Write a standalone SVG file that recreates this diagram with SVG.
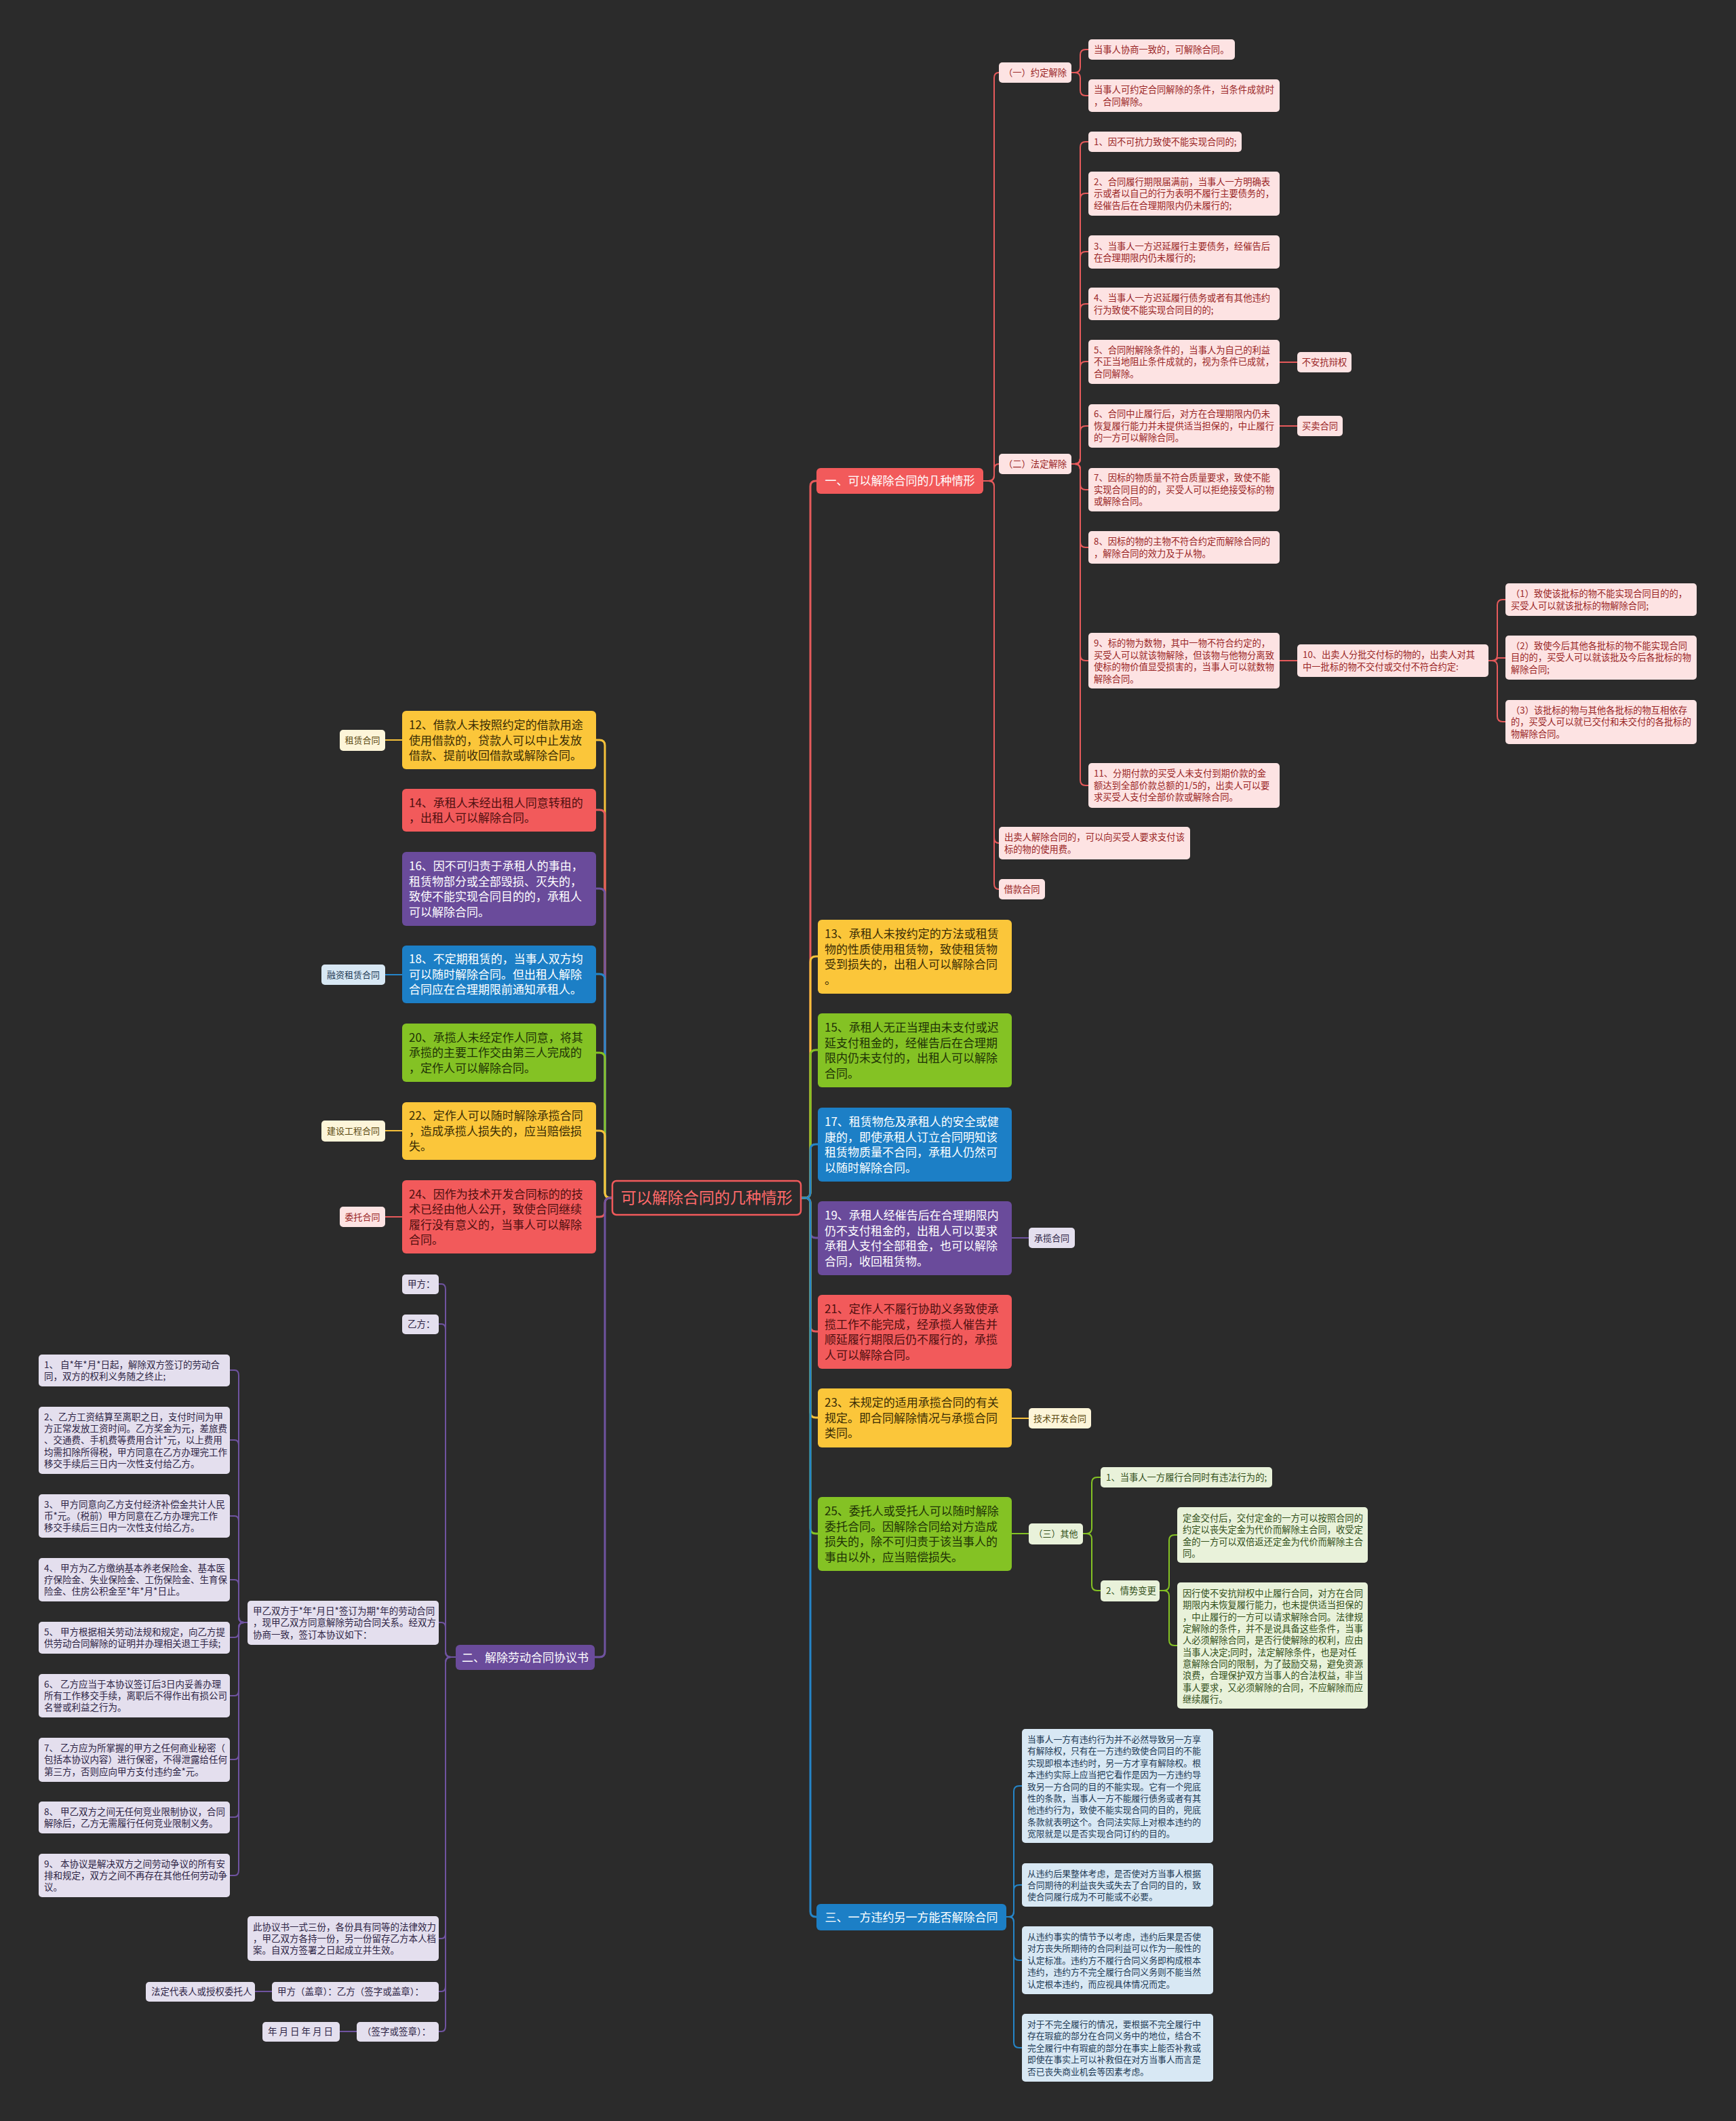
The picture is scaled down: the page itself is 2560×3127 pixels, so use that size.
<svg xmlns="http://www.w3.org/2000/svg" width="2560" height="3127" viewBox="0 0 2560 3127">
<style>
text{font-family:"Noto Sans CJK SC","Noto Sans",sans-serif}
.tb{font-size:17px}
.ts{font-size:13.3px}
.tg{font-size:13px}
.tl{font-size:13.5px}
.tbl{font-size:12.8px}
.c{text-anchor:middle}
.w{fill:#ffffff}
.dk-y{fill:#3a2d05}
.dk-r{fill:#4f1010}
.dk-g{fill:#1f3306}
.f-red{fill:#f25a5b}
.f-yel{fill:#fbc63a}
.f-grn{fill:#84c224}
.f-blu{fill:#1c7fc6}
.f-pur{fill:#6a4b9b}
.lp{fill:#fde3e3}
.lpt{fill:#9a2626}
.lg{fill:#e9f2da}
.lgt{fill:#33501a}
.lb{fill:#d8e8f4}
.lbt{fill:#1d3a55}
.lu{fill:#e4dfee}
.lut{fill:#2e2545}
.ly{fill:#fdf5d9}
.lyt{fill:#5c4a12}
.cn{fill:none;stroke-width:2}
.cr{stroke:#e65a5b}
.cy{stroke:#f6c13a}
.cg{stroke:#84c224}
.cb{stroke:#2585c8}
.cp{stroke:#6f53a0}
.thick{stroke-width:3}
</style>
<rect width="2560" height="3127" fill="#2b2b2b"/>

<g id="connectors">
<!-- root right -->
<path class="cn thick cr" d="M1181,1766 H1187 Q1195,1766 1195,1758 V717 Q1195,709 1203,709 H1205"/>
<path class="cn thick cy" d="M1181,1766 H1187 Q1195,1766 1195,1758 V1418 Q1195,1410 1203,1410 H1206"/>
<path class="cn thick cg" d="M1181,1766 H1187 Q1195,1766 1195,1758 V1556 Q1195,1548 1203,1548 H1206"/>
<path class="cn thick cb" d="M1181,1766 H1187 Q1195,1766 1195,1758 V1695 Q1195,1687 1203,1687 H1206"/>
<path class="cn thick cp" d="M1181,1766 H1187 Q1195,1766 1195,1774 V1817 Q1195,1825 1203,1825 H1206"/>
<path class="cn thick cr" d="M1181,1766 H1187 Q1195,1766 1195,1774 V1955 Q1195,1963 1203,1963 H1206"/>
<path class="cn thick cy" d="M1181,1766 H1187 Q1195,1766 1195,1774 V2082 Q1195,2090 1203,2090 H1206"/>
<path class="cn thick cg" d="M1181,1766 H1187 Q1195,1766 1195,1774 V2253 Q1195,2261 1203,2261 H1206"/>
<path class="cn thick cb" d="M1181,1766 H1187 Q1195,1766 1195,1774 V2818 Q1195,2826 1203,2826 H1205"/>
<!-- root left -->
<path class="cn thick cy" d="M903,1766 H900 Q892,1766 892,1758 V1099 Q892,1091 884,1091 H879"/>
<path class="cn thick cr" d="M903,1766 H900 Q892,1766 892,1758 V1202 Q892,1194 884,1194 H879"/>
<path class="cn thick cp" d="M903,1766 H900 Q892,1766 892,1758 V1318 Q892,1310 884,1310 H879"/>
<path class="cn thick cb" d="M903,1766 H900 Q892,1766 892,1758 V1444 Q892,1436 884,1436 H879"/>
<path class="cn thick cg" d="M903,1766 H900 Q892,1766 892,1758 V1560 Q892,1552 884,1552 H879"/>
<path class="cn thick cy" d="M903,1766 H900 Q892,1766 892,1758 V1675 Q892,1667 884,1667 H879"/>
<path class="cn thick cr" d="M903,1766 H900 Q892,1766 892,1774 V1786 Q892,1794 884,1794 H879"/>
<path class="cn thick cp" d="M903,1766 H900 Q892,1766 892,1774 V2435 Q892,2443 884,2443 H877"/>
<!-- left tags -->
<path class="cn cy" d="M568,1091 H593"/>
<path class="cn cb" d="M568,1437 H593"/>
<path class="cn cy" d="M568,1667 H593"/>
<path class="cn cr" d="M568,1794 H593"/>
<!-- right tags -->
<path class="cn cp" d="M1492,1825 H1517"/>
<path class="cn cy" d="M1492,2091 H1517"/>
<path class="cn cg" d="M1492,2261 H1517"/>
<!-- red branch -->
<path class="cn cr" d="M1450,709 H1458 Q1466,709 1466,701 V115 Q1466,107 1473,107"/>
<path class="cn cr" d="M1450,709 H1458 Q1466,709 1466,701 V692 Q1466,684 1473,684"/>
<path class="cn cr" d="M1450,709 H1458 Q1466,709 1466,717 V1235 Q1466,1243 1473,1243"/>
<path class="cn cr" d="M1450,709 H1458 Q1466,709 1466,717 V1303 Q1466,1311 1473,1311"/>
<path class="cn cr" d="M1580,107 H1585 Q1593,107 1593,99 V81 Q1593,73 1601,73 H1605"/>
<path class="cn cr" d="M1580,107 H1585 Q1593,107 1593,115 V133 Q1593,141 1601,141 H1605"/>
<path class="cn cr" d="M1580,684 H1585 Q1593,684 1593,676 V217 Q1593,209 1601,209 H1605"/>
<path class="cn cr" d="M1580,684 H1585 Q1593,684 1593,676 V293 Q1593,285 1601,285 H1605"/>
<path class="cn cr" d="M1580,684 H1585 Q1593,684 1593,676 V379 Q1593,371 1601,371 H1605"/>
<path class="cn cr" d="M1580,684 H1585 Q1593,684 1593,676 V456 Q1593,448 1601,448 H1605"/>
<path class="cn cr" d="M1580,684 H1585 Q1593,684 1593,676 V541 Q1593,533 1601,533 H1605"/>
<path class="cn cr" d="M1580,684 H1585 Q1593,684 1593,676 V636 Q1593,628 1601,628 H1605"/>
<path class="cn cr" d="M1580,684 H1585 Q1593,684 1593,692 V714 Q1593,722 1601,722 H1605"/>
<path class="cn cr" d="M1580,684 H1585 Q1593,684 1593,692 V799 Q1593,807 1601,807 H1605"/>
<path class="cn cr" d="M1580,684 H1585 Q1593,684 1593,692 V966 Q1593,974 1601,974 H1605"/>
<path class="cn cr" d="M1580,684 H1585 Q1593,684 1593,692 V1150 Q1593,1158 1601,1158 H1605"/>
<path class="cn cr" d="M1887,534 H1913"/>
<path class="cn cr" d="M1887,628 H1913"/>
<path class="cn cr" d="M1887,974 H1913"/>
<path class="cn cr" d="M2195,974 H2200 Q2208,974 2208,966 V892 Q2208,884 2216,884 H2220"/>
<path class="cn cr" d="M2195,974 H2200 Q2208,974 2208,970 H2220"/>
<path class="cn cr" d="M2195,974 H2200 Q2208,974 2208,982 V1056 Q2208,1064 2216,1064 H2220"/>
<!-- green other -->
<path class="cn cg" d="M1597,2261 H1602 Q1610,2261 1610,2253 V2186 Q1610,2178 1618,2178 H1623"/>
<path class="cn cg" d="M1597,2261 H1602 Q1610,2261 1610,2269 V2337 Q1610,2345 1618,2345 H1623"/>
<path class="cn cg" d="M1710,2345 H1716 Q1724,2345 1724,2337 V2271 Q1724,2263 1732,2263 H1736"/>
<path class="cn cg" d="M1710,2345 H1716 Q1724,2345 1724,2353 V2418 Q1724,2426 1732,2426 H1736"/>
<!-- blue three -->
<path class="cn cb" d="M1484,2826 H1488 Q1495,2826 1495,2818 V2641 Q1495,2633 1503,2633 H1507"/>
<path class="cn cb" d="M1484,2826 H1488 Q1495,2826 1495,2818 V2787 Q1495,2779 1503,2779 H1507"/>
<path class="cn cb" d="M1484,2826 H1488 Q1495,2826 1495,2834 V2882 Q1495,2890 1503,2890 H1507"/>
<path class="cn cb" d="M1484,2826 H1488 Q1495,2826 1495,2834 V3011 Q1495,3019 1503,3019 H1507"/>
<!-- purple two -->
<path class="cn cp" d="M672,2443 H665 Q657,2443 657,2435 V1901 Q657,1893 651,1893 H647"/>
<path class="cn cp" d="M672,2443 H665 Q657,2443 657,2435 V1960 Q657,1952 651,1952 H647"/>
<path class="cn cp" d="M672,2443 H665 Q657,2443 657,2435 V2400 Q657,2392 651,2392 H647"/>
<path class="cn cp" d="M672,2443 H665 Q657,2443 657,2451 V2850 Q657,2858 651,2858 H647"/>
<path class="cn cp" d="M672,2443 H665 Q657,2443 657,2451 V2928 Q657,2936 651,2936 H647"/>
<path class="cn cp" d="M672,2443 H665 Q657,2443 657,2451 V2987 Q657,2995 651,2995 H647"/>
<path class="cn cp" d="M365,2392 H360 Q352,2392 352,2384 V2028 Q352,2020 346,2020 H339"/>
<path class="cn cp" d="M365,2392 H360 Q352,2392 352,2384 V2131 Q352,2123 346,2123 H339"/>
<path class="cn cp" d="M365,2392 H360 Q352,2392 352,2384 V2243 Q352,2235 346,2235 H339"/>
<path class="cn cp" d="M365,2392 H360 Q352,2392 352,2384 V2337 Q352,2329 346,2329 H339"/>
<path class="cn cp" d="M365,2392 H360 Q352,2392 352,2400 V2406 Q352,2414 346,2414 H339"/>
<path class="cn cp" d="M365,2392 H360 Q352,2392 352,2400 V2492 Q352,2500 346,2500 H339"/>
<path class="cn cp" d="M365,2392 H360 Q352,2392 352,2400 V2586 Q352,2594 346,2594 H339"/>
<path class="cn cp" d="M365,2392 H360 Q352,2392 352,2400 V2671 Q352,2679 346,2679 H339"/>
<path class="cn cp" d="M365,2392 H360 Q352,2392 352,2400 V2757 Q352,2765 346,2765 H339"/>
<path class="cn cp" d="M401,2936 H376"/>
<path class="cn cp" d="M526,2995 H501"/>
</g>

<g id="root">
<rect x="903" y="1741" width="278" height="50" rx="6" fill="#2b2b2b" stroke="#f25a5b" stroke-width="2.5"/>
<text x="1042" y="1774" class="c" font-size="23" fill="#ff6a6a">可以解除合同的几种情形</text>
</g>

<g id="branch1">
<rect x="1204" y="690" width="246" height="38" rx="6" class="f-red"/>
<text x="1327" y="715" class="tb c w">一、可以解除合同的几种情形</text>
</g>
<g id="branch2">
<rect x="672" y="2425" width="205" height="37" rx="6" class="f-pur"/>
<text x="774.5" y="2449.5" class="tb c w">二、解除劳动合同协议书</text>
</g>
<g id="branch3">
<rect x="1204" y="2807" width="280" height="39" rx="6" class="f-blu"/>
<text x="1344" y="2832.5" class="tb c w">三、一方违约另一方能否解除合同</text>
</g>

<!-- red branch details -->
<g id="n-yueding"><rect x="1473" y="92" width="107" height="30" rx="5" class="lp"/><text x="1526.5" y="111.7" class="ts c lpt">（一）约定解除</text></g>
<g id="n-xieshang"><rect x="1605" y="58" width="216" height="30" rx="5" class="lp"/><text x="1613" y="77.7" class="ts lpt">当事人协商一致的，可解除合同。</text></g>
<g id="n-keyueding"><rect x="1605" y="117" width="282" height="48" rx="5" class="lp"/><text x="1613" y="137" class="ts lpt">当事人可约定合同解除的条件，当条件成就时<tspan x="1613" y="154.5">，合同解除。</tspan></text></g>
<g id="n-fading"><rect x="1473" y="669" width="107" height="30" rx="5" class="lp"/><text x="1526.5" y="688.7" class="ts c lpt">（二）法定解除</text></g>
<g id="n-f1"><rect x="1605" y="194" width="226" height="30" rx="5" class="lp"/><text x="1613" y="213.7" class="ts lpt">1、因不可抗力致使不能实现合同的;</text></g>
<g id="n-f2"><rect x="1605" y="253" width="282" height="65" rx="5" class="lp"/><text x="1613" y="272.7" class="ts lpt">2、合同履行期限届满前，当事人一方明确表<tspan x="1613" y="290.2">示或者以自己的行为表明不履行主要债务的，</tspan><tspan x="1613" y="307.7">经催告后在合理期限内仍未履行的;</tspan></text></g>
<g id="n-f3"><rect x="1605" y="347" width="282" height="49" rx="5" class="lp"/><text x="1613" y="367.5" class="ts lpt">3、当事人一方迟延履行主要债务，经催告后<tspan x="1613" y="385">在合理期限内仍未履行的;</tspan></text></g>
<g id="n-f4"><rect x="1605" y="424" width="282" height="48" rx="5" class="lp"/><text x="1613" y="444" class="ts lpt">4、当事人一方迟延履行债务或者有其他违约<tspan x="1613" y="461.5">行为致使不能实现合同目的的;</tspan></text></g>
<g id="n-f5"><rect x="1605" y="501" width="282" height="65" rx="5" class="lp"/><text x="1613" y="520.7" class="ts lpt">5、合同附解除条件的，当事人为自己的利益<tspan x="1613" y="538.2">不正当地阻止条件成就的，视为条件已成就，</tspan><tspan x="1613" y="555.7">合同解除。</tspan></text></g>
<g id="n-buan"><rect x="1913" y="519" width="80" height="30" rx="5" class="lp"/><text x="1953" y="538.7" class="ts c lpt">不安抗辩权</text></g>
<g id="n-f6"><rect x="1605" y="596" width="282" height="64" rx="5" class="lp"/><text x="1613" y="615.2" class="ts lpt">6、合同中止履行后，对方在合理期限内仍未<tspan x="1613" y="632.7">恢复履行能力并未提供适当担保的，中止履行</tspan><tspan x="1613" y="650.2">的一方可以解除合同。</tspan></text></g>
<g id="n-maimai"><rect x="1913" y="613" width="67" height="30" rx="5" class="lp"/><text x="1946.5" y="632.7" class="ts c lpt">买卖合同</text></g>
<g id="n-f7"><rect x="1605" y="690" width="282" height="64" rx="5" class="lp"/><text x="1613" y="709.2" class="ts lpt">7、因标的物质量不符合质量要求，致使不能<tspan x="1613" y="726.7">实现合同目的的，买受人可以拒绝接受标的物</tspan><tspan x="1613" y="744.2">或解除合同。</tspan></text></g>
<g id="n-f8"><rect x="1605" y="783" width="282" height="48" rx="5" class="lp"/><text x="1613" y="803" class="ts lpt">8、因标的物的主物不符合约定而解除合同的<tspan x="1613" y="820.5">，解除合同的效力及于从物。</tspan></text></g>
<g id="n-f9"><rect x="1605" y="933" width="282" height="82" rx="5" class="lp"/><text x="1613" y="953" class="ts lpt">9、标的物为数物，其中一物不符合约定的，<tspan x="1613" y="970.5">买受人可以就该物解除，但该物与他物分离致</tspan><tspan x="1613" y="988">使标的物价值显受损害的，当事人可以就数物</tspan><tspan x="1613" y="1005.5">解除合同。</tspan></text></g>
<g id="n-f10"><rect x="1913" y="950" width="282" height="48" rx="5" class="lp"/><text x="1921" y="970" class="ts lpt">10、出卖人分批交付标的物的，出卖人对其<tspan x="1921" y="987.5">中一批标的物不交付或交付不符合约定:</tspan></text></g>
<g id="n-s1"><rect x="2220" y="860" width="282" height="48" rx="5" class="lp"/><text x="2228" y="880" class="ts lpt">（1）致使该批标的物不能实现合同目的的，<tspan x="2228" y="897.5">买受人可以就该批标的物解除合同;</tspan></text></g>
<g id="n-s2"><rect x="2220" y="937" width="282" height="65" rx="5" class="lp"/><text x="2228" y="956.7" class="ts lpt">（2）致使今后其他各批标的物不能实现合同<tspan x="2228" y="974.2">目的的，买受人可以就该批及今后各批标的物</tspan><tspan x="2228" y="991.7">解除合同;</tspan></text></g>
<g id="n-s3"><rect x="2220" y="1032" width="282" height="65" rx="5" class="lp"/><text x="2228" y="1051.7" class="ts lpt">（3）该批标的物与其他各批标的物互相依存<tspan x="2228" y="1069.2">的，买受人可以就已交付和未交付的各批标的</tspan><tspan x="2228" y="1086.7">物解除合同。</tspan></text></g>
<g id="n-f11"><rect x="1605" y="1125" width="282" height="66" rx="5" class="lp"/><text x="1613" y="1145.2" class="ts lpt">11、分期付款的买受人未支付到期价款的金<tspan x="1613" y="1162.7">额达到全部价款总额的1/5的，出卖人可以要</tspan><tspan x="1613" y="1180.2">求买受人支付全部价款或解除合同。</tspan></text></g>
<g id="n-chumai"><rect x="1473" y="1219" width="282" height="48" rx="5" class="lp"/><text x="1481" y="1239" class="ts lpt">出卖人解除合同的，可以向买受人要求支付该<tspan x="1481" y="1256.5">标的物的使用费。</tspan></text></g>
<g id="n-jiekuan"><rect x="1473" y="1296" width="68" height="30" rx="5" class="lp"/><text x="1507" y="1315.7" class="ts c lpt">借款合同</text></g>

<!-- left big nodes -->
<g id="n12"><rect x="593" y="1048" width="286" height="86" rx="6" class="f-yel"/><text x="603" y="1075" class="tb dk-y">12、借款人未按照约定的借款用途<tspan x="603" y="1097.5">使用借款的，贷款人可以中止发放</tspan><tspan x="603" y="1120">借款、提前收回借款或解除合同。</tspan></text></g>
<g id="n14"><rect x="593" y="1163" width="286" height="63" rx="6" class="f-red"/><text x="603" y="1189.5" class="tb dk-r">14、承租人未经出租人同意转租的<tspan x="603" y="1212">，出租人可以解除合同。</tspan></text></g>
<g id="n16"><rect x="593" y="1256" width="286" height="109" rx="6" class="f-pur"/><text x="603" y="1283" class="tb w">16、因不可归责于承租人的事由，<tspan x="603" y="1305.5">租赁物部分或全部毁损、灭失的，</tspan><tspan x="603" y="1328">致使不能实现合同目的的，承租人</tspan><tspan x="603" y="1350.5">可以解除合同。</tspan></text></g>
<g id="n18"><rect x="593" y="1394" width="286" height="85" rx="6" class="f-blu"/><text x="603" y="1420" class="tb w">18、不定期租赁的，当事人双方均<tspan x="603" y="1442.5">可以随时解除合同。但出租人解除</tspan><tspan x="603" y="1465">合同应在合理期限前通知承租人。</tspan></text></g>
<g id="n20"><rect x="593" y="1509" width="286" height="86" rx="6" class="f-grn"/><text x="603" y="1535.5" class="tb dk-g">20、承揽人未经定作人同意，将其<tspan x="603" y="1558">承揽的主要工作交由第三人完成的</tspan><tspan x="603" y="1580.5">，定作人可以解除合同。</tspan></text></g>
<g id="n22"><rect x="593" y="1625" width="286" height="85" rx="6" class="f-yel"/><text x="603" y="1651" class="tb dk-y">22、定作人可以随时解除承揽合同<tspan x="603" y="1673.5">，造成承揽人损失的，应当赔偿损</tspan><tspan x="603" y="1696">失。</tspan></text></g>
<g id="n24"><rect x="593" y="1740" width="286" height="108" rx="6" class="f-red"/><text x="603" y="1766.5" class="tb dk-r">24、因作为技术开发合同标的的技<tspan x="603" y="1789">术已经由他人公开，致使合同继续</tspan><tspan x="603" y="1811.5">履行没有意义的，当事人可以解除</tspan><tspan x="603" y="1834">合同。</tspan></text></g>

<g id="tag-zulin"><rect x="501" y="1076" width="67" height="31" rx="5" class="ly"/><text x="534.5" y="1096" class="tg c lyt">租赁合同</text></g>
<g id="tag-rongzi"><rect x="474" y="1422" width="94" height="30" rx="5" class="lb"/><text x="521" y="1441.6" class="tg c lbt">融资租赁合同</text></g>
<g id="tag-jianshe"><rect x="474" y="1652" width="94" height="31" rx="5" class="ly"/><text x="521" y="1672" class="tg c lyt">建设工程合同</text></g>
<g id="tag-weituo"><rect x="501" y="1779" width="67" height="30" rx="5" class="lp"/><text x="534.5" y="1798.6" class="tg c lpt">委托合同</text></g>

<!-- right big nodes -->
<g id="n13"><rect x="1206" y="1356" width="286" height="109" rx="6" class="f-yel"/><text x="1216" y="1383" class="tb dk-y">13、承租人未按约定的方法或租赁<tspan x="1216" y="1405.5">物的性质使用租赁物，致使租赁物</tspan><tspan x="1216" y="1428">受到损失的，出租人可以解除合同</tspan><tspan x="1216" y="1450.5">。</tspan></text></g>
<g id="n15"><rect x="1206" y="1494" width="286" height="109" rx="6" class="f-grn"/><text x="1216" y="1521" class="tb dk-g">15、承租人无正当理由未支付或迟<tspan x="1216" y="1543.5">延支付租金的，经催告后在合理期</tspan><tspan x="1216" y="1566">限内仍未支付的，出租人可以解除</tspan><tspan x="1216" y="1588.5">合同。</tspan></text></g>
<g id="n17"><rect x="1206" y="1633" width="286" height="109" rx="6" class="f-blu"/><text x="1216" y="1660" class="tb w">17、租赁物危及承租人的安全或健<tspan x="1216" y="1682.5">康的，即使承租人订立合同明知该</tspan><tspan x="1216" y="1705">租赁物质量不合同，承租人仍然可</tspan><tspan x="1216" y="1727.5">以随时解除合同。</tspan></text></g>
<g id="n19"><rect x="1206" y="1771" width="286" height="109" rx="6" class="f-pur"/><text x="1216" y="1798" class="tb w">19、承租人经催告后在合理期限内<tspan x="1216" y="1820.5">仍不支付租金的，出租人可以要求</tspan><tspan x="1216" y="1843">承租人支付全部租金，也可以解除</tspan><tspan x="1216" y="1865.5">合同，收回租赁物。</tspan></text></g>
<g id="n21"><rect x="1206" y="1909" width="286" height="109" rx="6" class="f-red"/><text x="1216" y="1936" class="tb dk-r">21、定作人不履行协助义务致使承<tspan x="1216" y="1958.5">揽工作不能完成，经承揽人催告并</tspan><tspan x="1216" y="1981">顺延履行期限后仍不履行的，承揽</tspan><tspan x="1216" y="2003.5">人可以解除合同。</tspan></text></g>
<g id="n23"><rect x="1206" y="2047" width="286" height="87" rx="6" class="f-yel"/><text x="1216" y="2074" class="tb dk-y">23、未规定的适用承揽合同的有关<tspan x="1216" y="2096.5">规定。即合同解除情况与承揽合同</tspan><tspan x="1216" y="2119">类同。</tspan></text></g>
<g id="n25"><rect x="1206" y="2207" width="286" height="109" rx="6" class="f-grn"/><text x="1216" y="2234" class="tb dk-g">25、委托人或受托人可以随时解除<tspan x="1216" y="2256.5">委托合同。因解除合同给对方造成</tspan><tspan x="1216" y="2279">损失的，除不可归责于该当事人的</tspan><tspan x="1216" y="2301.5">事由以外，应当赔偿损失。</tspan></text></g>

<g id="tag-chenglan"><rect x="1517" y="1810" width="68" height="30" rx="5" class="lu"/><text x="1551" y="1829.6" class="tg c lut">承揽合同</text></g>
<g id="tag-jishu"><rect x="1517" y="2076" width="92" height="30" rx="5" class="ly"/><text x="1563" y="2095.6" class="tg c lyt">技术开发合同</text></g>
<g id="tag-qita"><rect x="1517" y="2246" width="80" height="31" rx="5" class="lg"/><text x="1557" y="2266" class="tg c lgt">（三）其他</text></g>

<!-- green details -->
<g id="g1"><rect x="1623" y="2163" width="253" height="30" rx="5" class="lg"/><text x="1631" y="2182.7" class="ts lgt">1、当事人一方履行合同时有违法行为的;</text></g>
<g id="g2"><rect x="1623" y="2330" width="87" height="31" rx="5" class="lg"/><text x="1631" y="2350.2" class="ts lgt">2、情势变更</text></g>
<g id="g3"><rect x="1736" y="2222" width="281" height="82" rx="5" class="lg"/><text x="1744" y="2243" class="ts lgt">定金交付后，交付定金的一方可以按照合同的<tspan x="1744" y="2260.4">约定以丧失定金为代价而解除主合同，收受定</tspan><tspan x="1744" y="2277.8">金的一方可以双倍返还定金为代价而解除主合</tspan><tspan x="1744" y="2295.2">同。</tspan></text></g>
<g id="g4"><rect x="1736" y="2333" width="281" height="186" rx="5" class="lg"/><text x="1744" y="2354" class="ts lgt">因行使不安抗辩权中止履行合同，对方在合同<tspan x="1744" y="2371.35">期限内未恢复履行能力，也未提供适当担保的</tspan><tspan x="1744" y="2388.7">，中止履行的一方可以请求解除合同。法律规</tspan><tspan x="1744" y="2406.05">定解除的条件，并不是说具备这些条件，当事</tspan><tspan x="1744" y="2423.4">人必须解除合同，是否行使解除的权利，应由</tspan><tspan x="1744" y="2440.75">当事人决定;同时，法定解除条件，也是对任</tspan><tspan x="1744" y="2458.1">意解除合同的限制，为了鼓励交易，避免资源</tspan><tspan x="1744" y="2475.45">浪费，合理保护双方当事人的合法权益，非当</tspan><tspan x="1744" y="2492.8">事人要求，又必须解除的合同，不应解除而应</tspan><tspan x="1744" y="2510.15">继续履行。</tspan></text></g>

<!-- blue details -->
<g id="b1"><rect x="1507" y="2549" width="282" height="168" rx="5" class="lb"/><text x="1515" y="2569" class="tbl lbt">当事人一方有违约行为并不必然导致另一方享<tspan x="1515" y="2586.4">有解除权，只有在一方违约致使合同目的不能</tspan><tspan x="1515" y="2603.8">实现即根本违约时，另一方才享有解除权。根</tspan><tspan x="1515" y="2621.2">本违约实际上应当把它看作是因为一方违约导</tspan><tspan x="1515" y="2638.6">致另一方合同的目的不能实现。它有一个兜底</tspan><tspan x="1515" y="2656">性的条款，当事人一方不能履行债务或者有其</tspan><tspan x="1515" y="2673.4">他违约行为，致使不能实现合同的目的，兜底</tspan><tspan x="1515" y="2690.8">条款就表明这个。合同法实际上对根本违约的</tspan><tspan x="1515" y="2708.2">宽限就是以是否实现合同订约的目的。</tspan></text></g>
<g id="b2"><rect x="1507" y="2747" width="282" height="64" rx="5" class="lb"/><text x="1515" y="2766.5" class="tbl lbt">从违约后果整体考虑，是否使对方当事人根据<tspan x="1515" y="2783.9">合同期待的利益丧失或失去了合同的目的，致</tspan><tspan x="1515" y="2801.3">使合同履行成为不可能或不必要。</tspan></text></g>
<g id="b3"><rect x="1507" y="2840" width="282" height="100" rx="5" class="lb"/><text x="1515" y="2860" class="tbl lbt">从违约事实的情节予以考虑，违约后果是否使<tspan x="1515" y="2877.4">对方丧失所期待的合同利益可以作为一般性的</tspan><tspan x="1515" y="2894.8">认定标准。违约方不履行合同义务即构成根本</tspan><tspan x="1515" y="2912.2">违约，违约方不完全履行合同义务则不能当然</tspan><tspan x="1515" y="2929.6">认定根本违约，而应视具体情况而定。</tspan></text></g>
<g id="b4"><rect x="1507" y="2969" width="282" height="100" rx="5" class="lb"/><text x="1515" y="2989" class="tbl lbt">对于不完全履行的情况，要根据不完全履行中<tspan x="1515" y="3006.4">存在瑕疵的部分在合同义务中的地位，结合不</tspan><tspan x="1515" y="3023.8">完全履行中有瑕疵的部分在事实上能否补救或</tspan><tspan x="1515" y="3041.2">即使在事实上可以补救但在对方当事人而言是</tspan><tspan x="1515" y="3058.6">否已丧失商业机会等因素考虑。</tspan></text></g>

<!-- purple details -->
<g id="p-jia"><rect x="593" y="1879" width="54" height="29" rx="5" class="lu"/><text x="601" y="1898" class="tl lut">甲方：</text></g>
<g id="p-yi"><rect x="593" y="1938" width="54" height="29" rx="5" class="lu"/><text x="601" y="1957" class="tl lut">乙方：</text></g>
<g id="p-intro"><rect x="365" y="2360" width="282" height="65" rx="5" class="lu"/><text x="373" y="2380" class="tl lut">甲乙双方于*年*月日*签订为期*年的劳动合同<tspan x="373" y="2397.3">，现甲乙双方同意解除劳动合同关系。经双方</tspan><tspan x="373" y="2414.6">协商一致，签订本协议如下：</tspan></text></g>
<g id="p-l1"><rect x="57" y="1997" width="282" height="47" rx="5" class="lu"/><text x="65" y="2016.7" class="tl lut">1、 自*年*月*日起，解除双方签订的劳动合<tspan x="65" y="2034">同，双方的权利义务随之终止;</tspan></text></g>
<g id="p-l2"><rect x="57" y="2074" width="282" height="99" rx="5" class="lu"/><text x="65" y="2093.7" class="tl lut">2、乙方工资结算至离职之日，支付时间为甲<tspan x="65" y="2111">方正常发放工资时间。乙方奖金为元，差旅费</tspan><tspan x="65" y="2128.3">、交通费、手机费等费用合计*元，以上费用</tspan><tspan x="65" y="2145.6">均需扣除所得税，甲方同意在乙方办理完工作</tspan><tspan x="65" y="2162.9">移交手续后三日内一次性支付给乙方。</tspan></text></g>
<g id="p-l3"><rect x="57" y="2203" width="282" height="64" rx="5" class="lu"/><text x="65" y="2222.5" class="tl lut">3、 甲方同意向乙方支付经济补偿金共计人民<tspan x="65" y="2239.8">币*元。（税前）甲方同意在乙方办理完工作</tspan><tspan x="65" y="2257.1">移交手续后三日内一次性支付给乙方。</tspan></text></g>
<g id="p-l4"><rect x="57" y="2297" width="282" height="64" rx="5" class="lu"/><text x="65" y="2316.5" class="tl lut">4、 甲方为乙方缴纳基本养老保险金、基本医<tspan x="65" y="2333.8">疗保险金、失业保险金、工伤保险金、生育保</tspan><tspan x="65" y="2351.1">险金、住房公积金至*年*月*日止。</tspan></text></g>
<g id="p-l5"><rect x="57" y="2391" width="282" height="47" rx="5" class="lu"/><text x="65" y="2410.7" class="tl lut">5、 甲方根据相关劳动法规和规定，向乙方提<tspan x="65" y="2428">供劳动合同解除的证明并办理相关退工手续;</tspan></text></g>
<g id="p-l6"><rect x="57" y="2468" width="282" height="64" rx="5" class="lu"/><text x="65" y="2487.5" class="tl lut">6、 乙方应当于本协议签订后3日内妥善办理<tspan x="65" y="2504.8">所有工作移交手续，离职后不得作出有损公司</tspan><tspan x="65" y="2522.1">名誉或利益之行为。</tspan></text></g>
<g id="p-l7"><rect x="57" y="2562" width="282" height="65" rx="5" class="lu"/><text x="65" y="2582" class="tl lut">7、 乙方应为所掌握的甲方之任何商业秘密（<tspan x="65" y="2599.3">包括本协议内容）进行保密，不得泄露给任何</tspan><tspan x="65" y="2616.6">第三方，否则应向甲方支付违约金*元。</tspan></text></g>
<g id="p-l8"><rect x="57" y="2656" width="282" height="47" rx="5" class="lu"/><text x="65" y="2675.7" class="tl lut">8、 甲乙双方之间无任何竞业限制协议，合同<tspan x="65" y="2693">解除后，乙方无需履行任何竞业限制义务。</tspan></text></g>
<g id="p-l9"><rect x="57" y="2733" width="282" height="64" rx="5" class="lu"/><text x="65" y="2752.5" class="tl lut">9、 本协议是解决双方之间劳动争议的所有安<tspan x="65" y="2769.8">排和规定，双方之间不再存在其他任何劳动争</tspan><tspan x="65" y="2787.1">议。</tspan></text></g>
<g id="p-copies"><rect x="365" y="2825" width="282" height="66" rx="5" class="lu"/><text x="373" y="2845.5" class="tl lut">此协议书一式三份，各份具有同等的法律效力<tspan x="373" y="2862.8">，甲乙双方各持一份，另一份留存乙方本人档</tspan><tspan x="373" y="2880.1">案。自双方签署之日起成立并生效。</tspan></text></g>
<g id="p-seal"><rect x="401" y="2922" width="246" height="29" rx="5" class="lu"/><text x="409" y="2941" class="tl lut">甲方（盖章）：乙方（签字或盖章）：</text></g>
<g id="p-rep"><rect x="215" y="2922" width="161" height="29" rx="5" class="lu"/><text x="223" y="2941" class="tl lut">法定代表人或授权委托人</text></g>
<g id="p-sign"><rect x="526" y="2981" width="121" height="29" rx="5" class="lu"/><text x="534" y="3000" class="tl lut">（签字或签章）：</text></g>
<g id="p-date"><rect x="387" y="2981" width="114" height="29" rx="5" class="lu"/><text x="395" y="3000" class="tl lut">年 月 日 年 月 日</text></g>
</svg>
